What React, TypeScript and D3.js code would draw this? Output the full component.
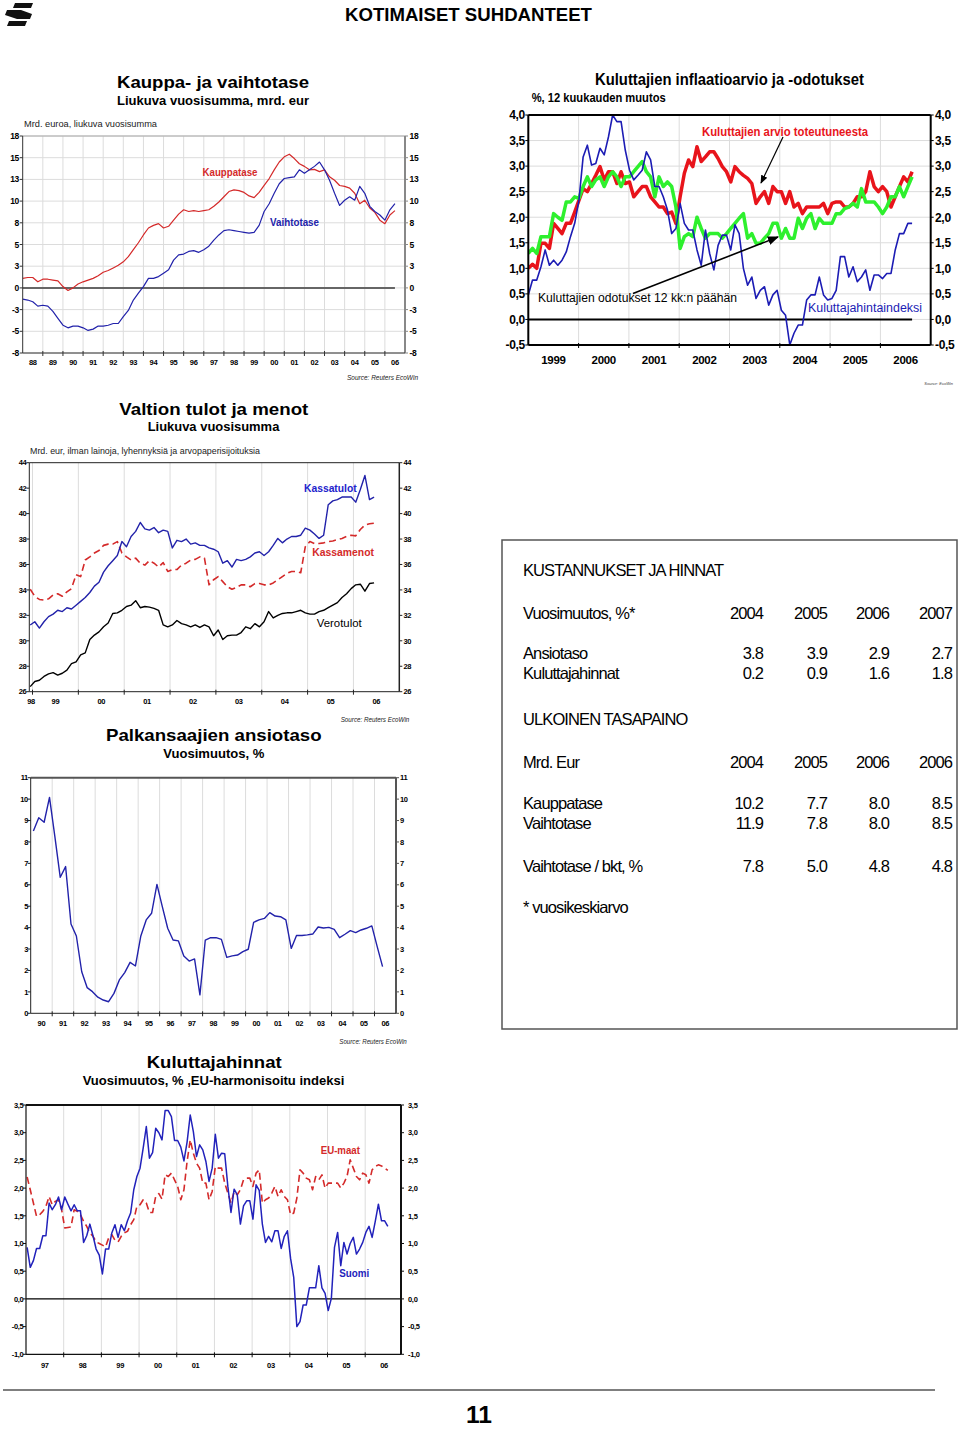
import React from 'react';
import * as d3 from 'd3';

const FONT = "'Liberation Sans', Arial, Helvetica, sans-serif";
const GRID = '#dcdcdc';

// ---------- Kauppa- ja vaihtotase (quarterly, mrd. eur)
const kauppatase = [
  1.1, 1.2, 1.2, 0.7, 1.0, 1.0, 0.9, 0.8, 0.15, -0.3, 0.0, 0.45, 0.7, 0.9, 1.1, 1.4,
  1.8, 2.0, 2.3, 2.6, 3.0, 3.6, 4.4, 5.2, 6.1, 6.9, 7.2, 7.4, 6.9, 7.1, 7.8, 8.5,
  9.0, 8.8, 8.9, 8.8, 8.9, 9.0, 9.4, 9.9, 10.5, 11.1, 11.3, 11.2, 11.0, 10.6, 10.4, 11.0,
  11.8, 12.6, 13.6, 14.5, 15.1, 15.4, 14.9, 14.3, 14.0, 13.6, 13.65, 13.4, 13.6, 12.8, 12.4, 11.8,
  11.7, 11.5, 10.9, 9.7, 10.1, 9.2, 8.7, 7.8, 7.4, 8.4, 8.9,
];
const vaihtotase = [
  -1.3, -1.4, -1.6, -2.1, -2.0, -2.1, -2.7, -3.5, -4.3, -4.6, -4.4, -4.4, -4.6, -4.9, -4.75, -4.4,
  -4.4, -4.3, -4.1, -4.1, -3.3, -2.6, -1.4, -0.6, 0.15, 1.1, 1.1, 1.3, 1.7, 2.1, 3.2, 3.8,
  3.9, 4.2, 4.3, 4.1, 4.4, 4.8, 5.5, 6.1, 6.6, 6.7, 6.6, 6.5, 6.4, 6.3, 6.4, 7.2,
  8.8, 9.7, 10.9, 12.0, 12.6, 12.7, 12.8, 13.6, 13.2, 13.6, 14.0, 14.5, 13.6, 12.4, 10.9, 9.5,
  10.1, 10.5, 10.1, 11.7, 10.9, 9.4, 8.8, 8.4, 7.8, 9.0, 9.7,
];
const tradeYTicks = [-7.5, -5, -2.5, 0, 2.5, 5, 7.5, 10, 12.5, 15, 17.5];
const tradeYLabels = ['-8', '-5', '-3', '0', '3', '5', '8', '10', '13', '15', '18'];
const tradeYears = ['88', '89', '90', '91', '92', '93', '94', '95', '96', '97', '98', '99', '00', '01', '02', '03', '04', '05', '06'];

// ---------- Kuluttajien inflaatioarvio ja -odotukset (monthly %, 1999 ->)
const arvioToteutuneesta = [
  1.0, 1.08, 1.0, 1.49, 1.49, 1.39, 1.88, 1.78, 1.68, 1.88, 1.88, 2.1,
  2.33, 2.56, 2.5, 2.66, 2.82, 2.99, 2.73, 2.89, 2.89, 2.66, 2.89, 2.66,
  2.69, 2.4, 2.5, 2.6, 2.6, 2.4, 2.3, 2.2, 2.2, 2.07, 2.1, 1.88,
  2.4, 2.86, 3.12, 2.99, 3.38, 3.09, 3.18, 3.28, 3.28, 3.15, 2.99, 2.89,
  2.69, 2.99, 2.89, 2.82, 2.76, 2.66, 2.27, 2.4, 2.5, 2.27, 2.6, 2.5,
  2.5, 2.27, 2.5, 2.2, 2.27, 2.07, 2.2, 2.2, 2.2, 2.2, 2.27, 2.07,
  2.27, 2.3, 2.3, 2.2, 2.2, 2.27, 2.4, 2.4, 2.5, 2.89, 2.6, 2.5,
  2.6, 2.5, 2.2, 2.4, 2.6, 2.79, 2.69, 2.89,
];
const odotukset12kk = [
  1.29, 1.39, 1.29, 1.62, 1.62, 1.62, 2.07, 2.0, 1.94, 2.3, 2.3, 2.4,
  2.37, 2.6, 2.79, 2.6, 2.73, 2.79, 2.6, 2.79, 2.89, 2.79, 2.6, 2.79,
  2.79, 2.89, 2.99, 3.09, 2.89, 2.79, 2.4, 2.79, 2.6, 2.69, 2.6, 2.2,
  1.39, 1.62, 1.68, 1.62, 2.0, 1.78, 1.59, 1.68, 1.68, 1.68, 1.59, 1.68,
  1.78, 1.88, 1.98, 2.07, 1.59, 1.68, 1.49, 1.49, 1.59, 1.68, 1.88, 1.88,
  1.59, 1.78, 1.59, 1.59, 1.98, 1.78, 1.98, 2.07, 1.78, 1.98, 1.88, 1.88,
  1.88, 2.07, 2.07, 2.17, 2.2, 2.27, 2.2, 2.56, 2.3, 2.3, 2.3, 2.2,
  2.07, 2.2, 2.4, 2.4, 2.6, 2.4, 2.6, 2.79,
];
const kuluttajahintaindeksi = [
  0.48, 0.77, 0.77, 1.03, 1.36, 1.06, 1.16, 1.06, 1.16, 1.32, 1.62, 1.88,
  2.33, 3.18, 3.41, 3.02, 3.05, 3.35, 3.22, 3.57, 4.0, 3.87, 3.87, 3.31,
  2.92, 2.73, 2.82, 2.92, 3.28, 3.12, 2.6, 2.6, 2.4, 2.14, 1.68, 1.78,
  2.27, 1.88, 1.75, 1.75, 1.36, 1.06, 1.75, 1.29, 0.97, 1.45, 1.65, 1.65,
  1.36, 1.85, 1.68, 1.0, 0.67, 0.83, 0.41, 0.57, 0.64, 0.28, 0.48, 0.57,
  0.18, 0.08, -0.5, -0.27, -0.11, -0.11, 0.38, 0.48, 0.48, 0.83, 0.48, 0.38,
  0.41, 0.57, 1.23, 1.23, 0.83, 1.03, 0.74, 0.83, 0.97, 0.57, 0.87, 0.87,
  0.8, 0.9, 0.9, 1.36, 1.68, 1.68, 1.88, 1.88,
];
const inflYTicks = [-0.5, 0, 0.5, 1, 1.5, 2, 2.5, 3, 3.5, 4];
const inflYLabels = ['-0,5', '0,0', '0,5', '1,0', '1,5', '2,0', '2,5', '3,0', '3,5', '4,0'];
const inflYears = ['1999', '2000', '2001', '2002', '2003', '2004', '2005', '2006'];

// ---------- Valtion tulot ja menot (mrd. eur)
const kassatulot = [
  31.24, 31.5, 31.0, 31.5, 31.9, 32.1, 32.4, 32.3, 32.6, 32.5, 32.8,
  33.1, 33.4, 33.8, 34.3, 34.6, 35.4, 35.9, 36.3, 36.7, 37.8,
  37.4, 38.2, 38.6, 39.3, 38.8, 38.7, 38.9, 38.5, 38.7, 38.6,
  37.3, 37.9, 37.8, 38.0, 37.6, 37.7, 37.5, 37.5, 37.3, 37.2,
  37.0, 36.1, 36.3, 35.8, 36.4, 36.3, 36.4, 36.6, 36.9, 37.0,
  36.7, 37.0, 37.5, 38.05, 37.7, 38.0, 38.2, 38.2, 38.3, 38.85,
  38.7, 38.4, 38.05, 38.3, 40.7, 41.0, 41.1, 41.3, 41.3, 41.3,
  40.9, 41.9, 43.0, 41.1, 41.3,
];
const kassamenot = [
  34.05, 33.5, 33.25, 33.2, 33.3, 33.6, 33.7, 33.5, 33.85, 34.1, 35.2,
  35.05, 36.35, 36.6, 36.9, 37.1, 37.5, 37.6, 37.6, 37.8, 36.9,
  36.6, 36.35, 36.5, 36.1, 35.95, 36.3, 36.1, 35.8, 36.15, 35.45,
  35.6, 35.6, 35.95, 36.1, 36.35, 36.4, 36.6, 36.5, 34.4, 34.8,
  35.05, 34.65, 34.25, 34.05, 34.2, 34.4, 34.4, 34.25, 34.5, 34.5,
  34.4, 34.4, 34.55, 34.8, 35.05, 35.3, 35.45, 35.45, 35.35, 37.4,
  37.8, 37.65, 37.65, 37.7, 37.8, 37.85, 37.95, 38.05, 38.2, 38.3,
  38.25, 38.75, 39.1, 39.2, 39.25,
];
const verotulot = [
  26.4, 26.8, 26.9, 27.2, 27.4, 27.5, 27.3, 27.45, 27.7, 28.2, 28.35,
  28.9, 29.05, 30.1, 30.45, 30.7, 31.1, 31.4, 32.15, 32.2, 32.4,
  32.7, 32.8, 33.15, 32.6, 32.7, 32.65, 32.55, 32.4, 31.25, 31.1,
  31.25, 31.6, 31.35, 31.25, 31.1, 31.25, 31.05, 31.25, 31.1, 30.4,
  30.85, 30.1, 30.4, 30.45, 30.45, 30.65, 31.1, 30.95, 31.35, 31.1,
  31.5, 32.3, 31.8, 32.0, 32.15, 32.2, 32.2, 32.3, 32.4, 32.2,
  32.1, 32.1, 32.3, 32.4, 32.6, 32.8, 33.0, 33.4, 33.7, 34.1,
  34.4, 34.45, 33.9, 34.5, 34.55,
];
const budgetYTicks = [26, 28, 30, 32, 34, 36, 38, 40, 42, 44];
const budgetYLabels = ['26', '28', '30', '32', '34', '36', '38', '40', '42', '44'];
const budgetYears = ['98', '99', '00', '01', '02', '03', '04', '05', '06'];

// ---------- Palkansaajien ansiotaso (quarterly %, 1990 ->)
const ansiotaso = [
  8.51, 9.13, 8.92, 10.08, 8.25, 6.35, 6.85, 4.17, 3.61, 1.94, 1.2, 1.01, 0.75, 0.62, 0.54, 0.93,
  1.56, 1.9, 2.38, 2.21, 3.61, 4.36, 4.67, 6.02, 4.98, 3.97, 3.42, 3.38, 2.68, 2.44, 2.54, 0.86,
  3.42, 3.53, 3.53, 3.45, 2.61, 2.68, 2.72, 2.88, 2.99, 4.25, 4.36, 4.43, 4.7, 4.54, 4.51, 4.36,
  3.03, 3.64, 3.63, 3.66, 3.7, 4.03, 3.98, 4.01, 3.92, 3.53, 3.69, 3.86, 3.77, 3.89, 3.97, 4.08,
  3.11, 2.18,
];
const wageYTicks = [0, 1, 2, 3, 4, 5, 6, 7, 8, 9, 10, 11];
const wageYLabels = ['0', '1', '2', '3', '4', '5', '6', '7', '8', '9', '10', '11'];
const wageYears = ['90', '91', '92', '93', '94', '95', '96', '97', '98', '99', '00', '01', '02', '03', '04', '05', '06'];

// ---------- Kuluttajahinnat (monthly %, 1997 ->)
const suomi = [
  0.93, 0.57, 0.69, 0.91, 0.91, 1.14, 1.14, 1.73, 1.61, 1.7, 1.84, 1.61,
  1.84, 1.71, 1.59, 1.7, 1.59, 1.59, 1.02, 1.14, 1.35, 1.14, 0.9, 0.79,
  0.45, 0.9, 0.9, 1.19, 1.34, 1.11, 1.34, 1.23, 1.41, 1.55, 1.97, 2.21,
  2.36, 2.72, 3.11, 2.54, 2.64, 3.08, 3.0, 2.87, 3.4, 3.4, 3.29, 2.86,
  2.86, 2.74, 2.49, 2.83, 3.32, 3.02, 2.57, 2.78, 2.69, 2.48, 2.12, 2.36,
  2.97, 2.54, 2.63, 2.62, 2.03, 1.56, 1.98, 1.88, 1.35, 1.68, 1.77, 1.77,
  1.44, 2.06, 1.96, 1.35, 1.02, 1.13, 1.03, 1.23, 1.23, 0.91, 1.13, 1.23,
  0.73, 0.39, -0.5, -0.41, -0.11, -0.11, 0.2, 0.2, 0.2, 0.6, 0.2, 0.1,
  -0.21, 0.01, 0.93, 1.2, 0.6, 1.02, 0.81, 1.0, 1.11, 0.81, 0.9, 1.02,
  1.2, 1.31, 1.11, 1.4, 1.71, 1.41, 1.41, 1.31,
];
const euMaat = [
  2.2, 1.97, 1.73, 1.49, 1.52, 1.58, 1.67, 1.85, 1.7, 1.76, 1.79, 1.61,
  1.28, 1.29, 1.3, 1.61, 1.58, 1.52, 1.4, 1.31, 1.19, 1.13, 1.03, 1.0,
  0.97, 0.94, 1.1, 1.16, 1.06, 1.03, 1.13, 1.19, 1.22, 1.34, 1.43, 1.67,
  1.7, 1.79, 1.73, 1.56, 1.56, 1.85, 1.9, 1.8, 2.24, 2.21, 2.27, 2.15,
  2.03, 1.79, 1.97, 2.48, 2.87, 2.63, 2.45, 2.36, 2.09, 2.09, 1.79, 1.94,
  2.39, 2.36, 2.36, 2.09, 1.91, 1.73, 1.94, 1.88, 1.97, 2.15, 2.18, 2.18,
  2.03, 2.27, 2.33, 1.73, 1.79, 1.82, 1.91, 2.03, 1.85, 1.97, 1.85, 1.79,
  1.52, 1.55, 1.82, 2.33, 2.27, 2.18, 2.15, 1.97, 2.21, 2.15, 2.24, 2.0,
  2.09, 2.09, 2.09, 2.09, 2.0, 2.09, 2.21, 2.51, 2.36, 2.21, 2.15, 2.27,
  2.24, 2.09, 2.33, 2.39, 2.42, 2.4, 2.36, 2.32,
];
const cpiYTicks = [-1, -0.5, 0, 0.5, 1, 1.5, 2, 2.5, 3, 3.5];
const cpiYLabels = ['-1,0', '-0,5', '0,0', '0,5', '1,0', '1,5', '2,0', '2,5', '3,0', '3,5'];
const cpiYears = ['97', '98', '99', '00', '01', '02', '03', '04', '05', '06'];

// ---------- Taulukko
const tableYears1 = ['2004', '2005', '2006', '2007'];
const ansiotasoRow = ['3.8', '3.9', '2.9', '2.7'];
const kuluttajahinnatRow = ['0.2', '0.9', '1.6', '1.8'];
const tableYears2 = ['2004', '2005', '2006', '2006'];
const kauppataseRow = ['10.2', '7.7', '8.0', '8.5'];
const vaihtotaseRow = ['11.9', '7.8', '8.0', '8.5'];
const vaihtotaseBktRow = ['7.8', '5.0', '4.8', '4.8'];

type Serie = { values: number[]; start: number; end: number; color: string; width: number; dash?: string };
type Edge = { color: string; width: number };
type ChartDef = {
  id: string;
  box: [number, number, number, number];
  xDomain: [number, number];
  yDomain: [number, number];
  yTicks: number[];
  yLabels: string[];
  ySize: number;
  leftX: number;
  rightX: number;
  xLabels: string[];
  xLabelAt: number[];
  xLabelY: number;
  xSize: number;
  xTicks: number[];
  hGrid: boolean;
  vGrid: boolean;
  zero?: { color: string; width: number; to?: number };
  top: Edge;
  right: Edge;
  axis: Edge;
  series: Serie[];
};

function LineChart({ d }: { d: ChartDef }) {
  const [x0, y0, x1, y1] = d.box;
  const x = d3.scaleLinear().domain(d.xDomain).range([x0, x1]);
  const y = d3.scaleLinear().domain(d.yDomain).range([y1, y0]);
  const line = d3.line<[number, number]>().x(p => x(p[0])).y(p => y(p[1]));
  const pts = (s: Serie) =>
    s.values.map((v, i) => [s.start + (i * (s.end - s.start)) / (s.values.length - 1), v] as [number, number]);
  return (
    <g>
      {d.hGrid && d.yTicks.map(t => (
        <line key={'h' + t} x1={x0} x2={x1} y1={y(t)} y2={y(t)} stroke={GRID} strokeWidth={1} />
      ))}
      {d.vGrid && d.xTicks.map(t => (
        <line key={'v' + t} x1={x(t)} x2={x(t)} y1={y0} y2={y1} stroke={GRID} strokeWidth={1} />
      ))}
      {d.zero && (
        <line x1={x0} x2={d.zero.to ? x(d.zero.to) : x1} y1={y(0)} y2={y(0)} stroke={d.zero.color} strokeWidth={d.zero.width} />
      )}
      <clipPath id={'clip-' + d.id}>
        <rect x={x0} y={y0 - 2} width={x1 - x0} height={y1 - y0 + 4} />
      </clipPath>
      <g clipPath={`url(#clip-${d.id})`}>
        {d.series.map((s, i) => (
          <path key={i} d={line(pts(s)) || ''} fill="none" stroke={s.color} strokeWidth={s.width}
            strokeDasharray={s.dash} strokeLinejoin="round" />
        ))}
      </g>
      <line x1={x0} x2={x1} y1={y0} y2={y0} stroke={d.top.color} strokeWidth={d.top.width} />
      <line x1={x1} x2={x1} y1={y0} y2={y1} stroke={d.right.color} strokeWidth={d.right.width} />
      <line x1={x0} x2={x0} y1={y0} y2={y1} stroke={d.axis.color} strokeWidth={d.axis.width} />
      <line x1={x0} x2={x1} y1={y1} y2={y1} stroke={d.axis.color} strokeWidth={d.axis.width} />
      {d.yTicks.map((t, i) => (
        <g key={'yt' + t}>
          <line x1={x0 - 3} x2={x0} y1={y(t)} y2={y(t)} stroke={d.axis.color} />
          <line x1={x1} x2={x1 + 3} y1={y(t)} y2={y(t)} stroke={d.right.color} />
          <text x={d.leftX} y={y(t) + d.ySize * 0.36} textAnchor="end" fontSize={d.ySize} fontWeight="bold"
            fontFamily={FONT} letterSpacing={-0.3}>{d.yLabels[i]}</text>
          <text x={d.rightX} y={y(t) + d.ySize * 0.36} textAnchor="start" fontSize={d.ySize} fontWeight="bold"
            fontFamily={FONT} letterSpacing={-0.3}>{d.yLabels[i]}</text>
        </g>
      ))}
      {d.xTicks.map(t => (
        <line key={'xt' + t} x1={x(t)} x2={x(t)} y1={y1 - 2} y2={y1 + 3} stroke={d.axis.color} />
      ))}
      {d.xLabels.map((l, i) => (
        <text key={'xl' + i} x={x(d.xLabelAt[i])} y={d.xLabelY} textAnchor="middle" fontSize={d.xSize}
          fontWeight="bold" fontFamily={FONT} letterSpacing={-0.3}>{l}</text>
      ))}
    </g>
  );
}

const T = ({ x, y, s, w, c = '#000', b = false, a = 'start', len, it = false, ls, children }: any) => (
  <text x={x} y={y} fontSize={s} fontWeight={b ? 'bold' : 'normal'} fill={c} textAnchor={a} fontFamily={FONT}
    fontStyle={it ? 'italic' : 'normal'} letterSpacing={ls}
    textLength={len} lengthAdjust={len ? 'spacingAndGlyphs' : undefined}>{children ?? w}</text>
);

const years = (first: number, n: number) => d3.range(first, first + n);

const tradeChart: ChartDef = {
  id: 'trade', box: [22.7, 136, 405, 353], xDomain: [1988, 2007], yDomain: [-7.5, 17.5],
  yTicks: tradeYTicks, yLabels: tradeYLabels, ySize: 8.5, leftX: 19, rightX: 409.5,
  xLabels: tradeYears, xLabelAt: years(1988, 19).map(v => v + 0.5), xLabelY: 364.5, xSize: 7.5,
  xTicks: years(1989, 18), hGrid: true, vGrid: true, zero: { color: '#666', width: 2, to: 2006.5 },
  top: { color: '#aaa', width: 1 }, right: { color: '#888', width: 2 }, axis: { color: '#333', width: 1 },
  series: [
    { values: kauppatase, start: 1988, end: 2006.5, color: '#d42a2a', width: 1.2 },
    { values: vaihtotase, start: 1988, end: 2006.5, color: '#2222aa', width: 1.2 },
  ],
};

const inflChart: ChartDef = {
  id: 'infl', box: [528.3, 115, 930.7, 345], xDomain: [1999, 2007], yDomain: [-0.5, 4],
  yTicks: inflYTicks, yLabels: inflYLabels, ySize: 12, leftX: 525, rightX: 935,
  xLabels: inflYears, xLabelAt: years(1999, 8).map(v => v + 0.5), xLabelY: 364, xSize: 11.5,
  xTicks: years(2000, 7), hGrid: true, vGrid: true, zero: { color: '#000', width: 2, to: 2006.63 },
  top: { color: '#000', width: 2 }, right: { color: '#000', width: 2 }, axis: { color: '#000', width: 2 },
  series: [
    { values: arvioToteutuneesta, start: 1999, end: 2006.63, color: '#e8141b', width: 3.5 },
    { values: odotukset12kk, start: 1999, end: 2006.63, color: '#2ef02e', width: 3.5 },
    { values: kuluttajahintaindeksi, start: 1999, end: 2006.63, color: '#1c1cb4', width: 1.6 },
  ],
};

const budgetChart: ChartDef = {
  id: 'budget', box: [29.3, 462.7, 399.3, 691.7], xDomain: [1998.93, 2007], yDomain: [26, 44],
  yTicks: budgetYTicks, yLabels: budgetYLabels, ySize: 7.5, leftX: 26.5, rightX: 403.5,
  xLabels: budgetYears, xLabelAt: [1998.97, ...years(1999, 8).map(v => v + 0.5)], xLabelY: 704, xSize: 7.5,
  xTicks: years(1999, 8), hGrid: false, vGrid: true,
  top: { color: '#222', width: 1 }, right: { color: '#222', width: 1.5 }, axis: { color: '#222', width: 1 },
  series: [
    { values: kassamenot, start: 1998.95, end: 2006.45, color: '#d42a2a', width: 1.6, dash: '7,4' },
    { values: verotulot, start: 1998.95, end: 2006.45, color: '#000', width: 1.4 },
    { values: kassatulot, start: 1998.95, end: 2006.45, color: '#2222aa', width: 1.4 },
  ],
};

const wageChart: ChartDef = {
  id: 'wage', box: [30.7, 777.7, 396, 1013.3], xDomain: [1990, 2007], yDomain: [0, 11],
  yTicks: wageYTicks, yLabels: wageYLabels, ySize: 7.5, leftX: 28, rightX: 400,
  xLabels: wageYears, xLabelAt: years(1990, 17).map(v => v + 0.5), xLabelY: 1026, xSize: 7.5,
  xTicks: years(1991, 16), hGrid: false, vGrid: true,
  top: { color: '#555', width: 2 }, right: { color: '#555', width: 2 }, axis: { color: '#222', width: 1 },
  series: [{ values: ansiotaso, start: 1990.125, end: 2006.375, color: '#2222aa', width: 1.4 }],
};

const cpiChart: ChartDef = {
  id: 'cpi', box: [26, 1105, 401, 1354.3], xDomain: [1997, 2006.95], yDomain: [-1, 3.5],
  yTicks: cpiYTicks, yLabels: cpiYLabels, ySize: 7.5, leftX: 23.5, rightX: 408,
  xLabels: cpiYears, xLabelAt: years(1997, 10).map(v => v + 0.5), xLabelY: 1368, xSize: 7.5,
  xTicks: years(1998, 9), hGrid: false, vGrid: true, zero: { color: '#000', width: 1.3 },
  top: { color: '#111', width: 2 }, right: { color: '#111', width: 2 }, axis: { color: '#111', width: 1.2 },
  series: [
    { values: euMaat, start: 1997.03, end: 2006.6, color: '#d42a2a', width: 1.6, dash: '7,4' },
    { values: suomi, start: 1997.03, end: 2006.6, color: '#2222bb', width: 1.5 },
  ],
};

const tableCols = [763, 827, 889, 952];

function TableRow({ y, label, vals }: { y: number; label: string; vals: string[] }) {
  return (
    <g>
      <T x={523} y={y} s={16.5} ls={-0.9}>{label}</T>
      {vals.map((v, i) => (
        <T key={i} x={tableCols[i]} y={y} s={16.5} a="end" ls={-0.9}>{v}</T>
      ))}
    </g>
  );
}

export default function App() {
  return (
    <svg width={960} height={1429} viewBox="0 0 960 1429"
      style={{ position: 'absolute', left: 0, top: 0, background: '#fff' }}>
      <defs>
        <marker id="arr" viewBox="0 0 10 10" refX="9" refY="5" markerWidth="7" markerHeight="7" orient="auto">
          <path d="M0,1 L10,5 L0,9 z" fill="#000" />
        </marker>
      </defs>
      <rect width={960} height={1429} fill="#fff" />

      {/* header */}
      <g fill="#111">
        <polygon points="15,3 33,3 31,8 13,8" />
        <polygon points="7,10 21,10 32,14 30,19 17,19 5,15" />
        <polygon points="9,21 27,21 25,26 7,26" />
      </g>
      <T x={468.5} y={20.5} s={18} b a="middle" len={247}>KOTIMAISET SUHDANTEET</T>

      {/* Kauppa- ja vaihtotase */}
      <T x={213} y={88} s={17} b a="middle" len={192}>Kauppa- ja vaihtotase</T>
      <T x={213} y={104.5} s={12.5} b a="middle" len={192}>Liukuva vuosisumma, mrd. eur</T>
      <T x={24} y={127} s={9.5} c="#222" len={133}>Mrd. euroa, liukuva vuosisumma</T>
      <LineChart d={tradeChart} />
      <T x={230} y={175.5} s={10} b c="#d42a2a" a="middle" len={55}>Kauppatase</T>
      <T x={294.5} y={226} s={10} b c="#2222aa" a="middle" len={49}>Vaihtotase</T>
      <T x={418} y={380} s={7} it a="end" c="#222" len={71}>Source: Reuters EcoWin</T>

      {/* Kuluttajien inflaatioarvio */}
      <T x={729.5} y={85} s={17} b a="middle" len={269}>Kuluttajien inflaatioarvio ja -odotukset</T>
      <T x={531.7} y={102} s={12} b len={134}>%, 12 kuukauden muutos</T>
      <LineChart d={inflChart} />
      <T x={702} y={136} s={12} b c="#e8141b" len={166}>Kuluttajien arvio toteutuneesta</T>
      <T x={538} y={302} s={12} len={199}>Kuluttajien odotukset 12 kk:n päähän</T>
      <T x={808} y={312} s={12} c="#1c1cb4" len={114}>Kuluttajahintaindeksi</T>
      <line x1={783} y1={137} x2={761} y2={183} stroke="#000" strokeWidth={1.2} markerEnd="url(#arr)" />
      <line x1={633} y1={293.5} x2={778} y2={237} stroke="#000" strokeWidth={1.6} markerEnd="url(#arr)" />
      <T x={953} y={385} s={4} it a="end" c="#444">Source: EcoWin</T>

      {/* Valtion tulot ja menot */}
      <T x={213.8} y={414.5} s={17} b a="middle" len={189}>Valtion tulot ja menot</T>
      <T x={213.5} y={431} s={12.5} b a="middle" len={131.7}>Liukuva vuosisumma</T>
      <T x={30} y={454} s={9.5} c="#222" len={230}>Mrd. eur, ilman lainoja, lyhennyksiä ja arvopaperisijoituksia</T>
      <LineChart d={budgetChart} />
      <T x={304} y={492} s={11} b c="#2222cc" len={52.7}>Kassatulot</T>
      <T x={312.3} y={556} s={11} b c="#d42a2a" len={61.7}>Kassamenot</T>
      <T x={316.7} y={627} s={11} len={45}>Verotulot</T>
      <T x={409.3} y={722} s={7} it a="end" c="#222" len={68.6}>Source: Reuters EcoWin</T>

      {/* Palkansaajien ansiotaso */}
      <T x={213.8} y={741} s={17} b a="middle" len={215.7}>Palkansaajien ansiotaso</T>
      <T x={213.8} y={758} s={12.5} b a="middle" len={101}>Vuosimuutos, %</T>
      <LineChart d={wageChart} />
      <T x={406.7} y={1043.5} s={7} it a="end" c="#222" len={67.4}>Source: Reuters EcoWin</T>

      {/* Kuluttajahinnat */}
      <T x={214.2} y={1068} s={17} b a="middle" len={135}>Kuluttajahinnat</T>
      <T x={213.5} y={1084.5} s={12.5} b a="middle" len={261.7}>Vuosimuutos, % ,EU-harmonisoitu indeksi</T>
      <LineChart d={cpiChart} />
      <T x={320.7} y={1154} s={10.5} b c="#d42a2a" len={39.3}>EU-maat</T>
      <T x={339.3} y={1276.5} s={10.5} b c="#2222bb" len={30}>Suomi</T>

      {/* table */}
      <rect x={502} y={540} width={455} height={489} fill="none" stroke="#555" strokeWidth={1.5} />
      <T x={523} y={576} s={16.5} ls={-0.9}>KUSTANNUKSET JA HINNAT</T>
      <TableRow y={619} label="Vuosimuutos, %*" vals={tableYears1} />
      <TableRow y={658.5} label="Ansiotaso" vals={ansiotasoRow} />
      <TableRow y={679} label="Kuluttajahinnat" vals={kuluttajahinnatRow} />
      <T x={523} y={725} s={16.5} ls={-0.9}>ULKOINEN TASAPAINO</T>
      <TableRow y={768} label="Mrd. Eur" vals={tableYears2} />
      <TableRow y={808.5} label="Kauppatase" vals={kauppataseRow} />
      <TableRow y={828.5} label="Vaihtotase" vals={vaihtotaseRow} />
      <TableRow y={871.5} label="Vaihtotase / bkt, %" vals={vaihtotaseBktRow} />
      <T x={523} y={913} s={16.5} ls={-0.9}>* vuosikeskiarvo</T>

      {/* footer */}
      <line x1={3} x2={935} y1={1390} y2={1390} stroke="#555" strokeWidth={1.5} />
      <T x={479} y={1423} s={24} b a="middle" len={26}>11</T>
    </svg>
  );
}
